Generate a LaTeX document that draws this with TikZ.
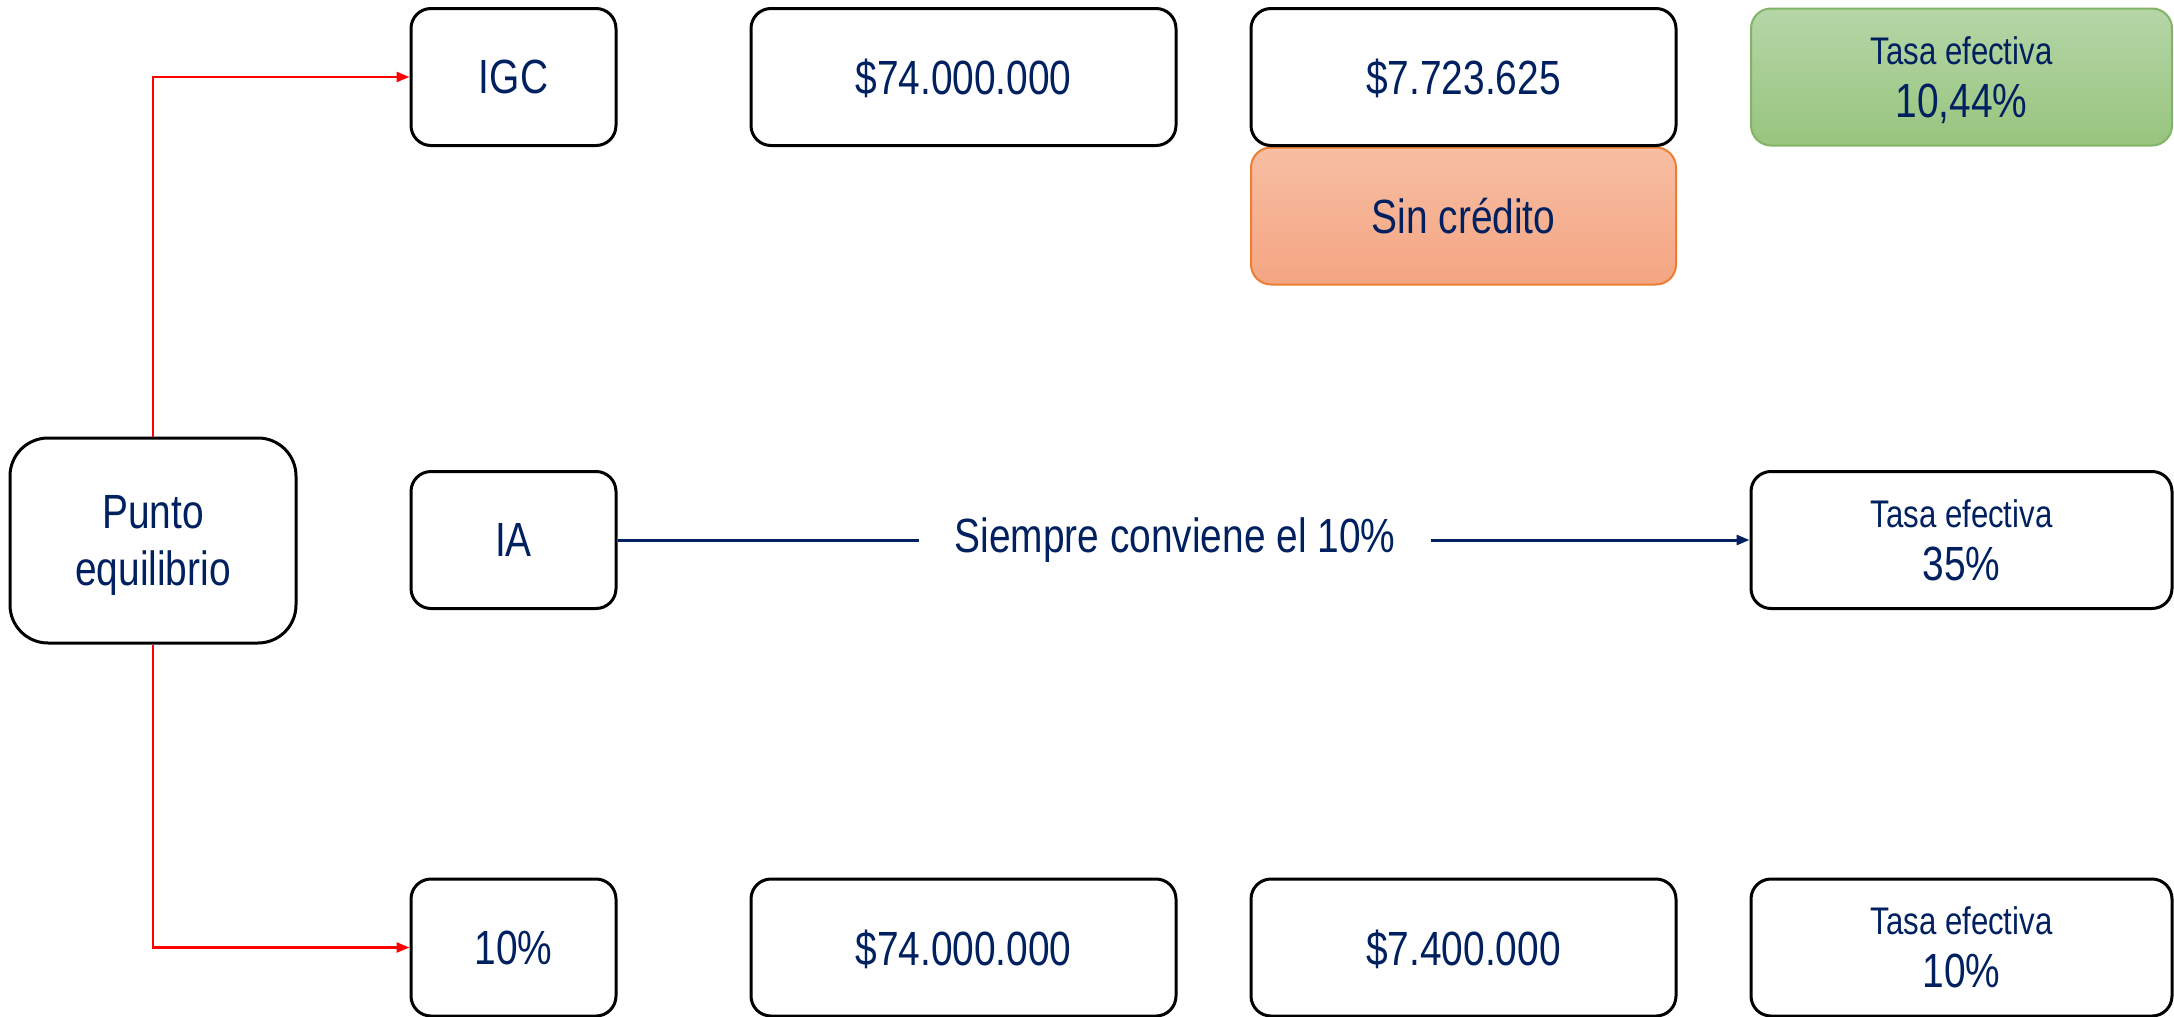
\documentclass[tikz,border=0pt]{standalone}
\usepackage{fontspec}
\setmainfont{Liberation Sans}[FakeStretch=0.81]
\usetikzlibrary{arrows.meta}
\definecolor{navy}{HTML}{002060}
\definecolor{gtop}{HTML}{B5D6A7}
\definecolor{gbot}{HTML}{97C47E}
\definecolor{gline}{HTML}{82B366}
\definecolor{otop}{HTML}{F7BEA3}
\definecolor{obot}{HTML}{F4A582}
\definecolor{oline}{HTML}{ED7D31}
\newcommand{\tasa}[1]{{\fontsize{38.5}{44}\selectfont Tasa efectiva}\\#1}
\begin{document}
\begin{tikzpicture}[x=1pt,y=-1pt,
  box/.style={draw=black, line width=3pt, rounded corners=20pt, inner sep=0pt,
    text=navy, font=\fontsize{48}{57}\selectfont, align=center,
    minimum height=137pt, text depth=0pt},
  small/.style={box, minimum width=205pt},
  wide/.style={box, minimum width=425pt},
  last/.style={box, minimum width=421pt, font=\fontsize{48}{53}\selectfont},
  greenbox/.style={draw=gline, line width=2pt, top color=gtop, bottom color=gbot},
  orangebox/.style={draw=oline, line width=2pt, top color=otop, bottom color=obot},
  redarrow/.style={draw=red, line width=2.5pt, -{Triangle[length=13pt,width=10pt]}},
  navyarrow/.style={draw=navy, line width=3pt, -{Triangle[length=13pt,width=10pt]}},
  lbl/.style={fill=white, text=navy, font=\fontsize{48}{57}\selectfont, inner xsep=36pt, inner ysep=6pt}
]
\useasboundingbox (0,0) rectangle (2174,1017);

% left
\node[box, rounded corners=38pt, minimum width=286pt, minimum height=205pt] (pe) at (153,540.5) {Punto\\equilibrio};

% row 1
\node[small] (igc) at (513.5,77) {IGC};
\node[wide] (m1) at (963.5,77) {\$74.000.000};
\node[wide, orangebox] (sc) at (1463.5,216) {Sin crédito};
\node[wide] (c1) at (1463.5,77) {\$7.723.625};
\node[last, greenbox] (t1) at (1961.5,77) {\tasa{10,44\%}};

% row 2
\node[small] (ia) at (513.5,540) {IA};
\node[last] (t2) at (1961.5,540) {\tasa{35\%}};

% row 3
\node[small] (ten) at (513.5,947.5) {10\%};
\node[wide] (m3) at (963.5,947.5) {\$74.000.000};
\node[wide] (c3) at (1463.5,947.5) {\$7.400.000};
\node[last] (t3) at (1961.5,947.5) {\tasa{10\%}};

% connectors
\draw[redarrow] (pe.north) |- (igc.west);
\draw[redarrow] (pe.south) |- (ten.west);
\draw[navyarrow] (ia.east) -- node[lbl, pos=0.4925] (siempre) {Siempre conviene el 10\%} (t2.west);
\end{tikzpicture}
\end{document}
